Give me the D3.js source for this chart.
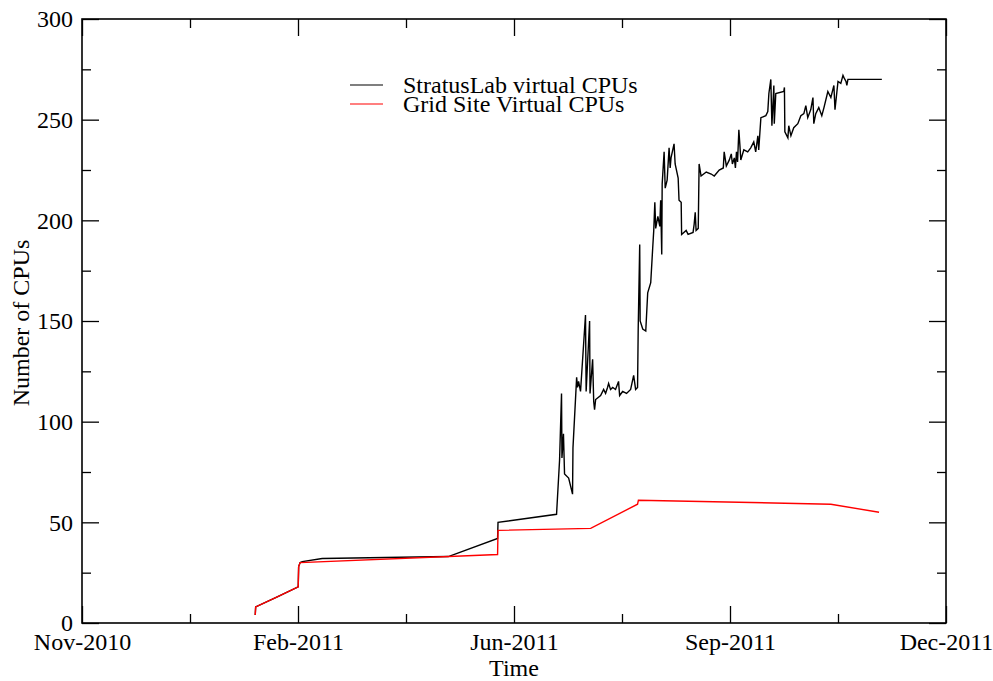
<!DOCTYPE html>
<html>
<head>
<meta charset="utf-8">
<script src="https://cdn.jsdelivr.net/npm/d3@7"></script>
<style>
  body { margin: 0; background: #fff; }
  text { font-family: "Liberation Serif", "Times New Roman", serif; }
</style>
</head>
<body>
<svg id="chart"></svg>
<script>
let svgWidth = 993, svgHeight = 681

// x values are days since 1 Jan 2011 (fractional), y values are CPU counts
let gridDays = [34.2, 34.4, 44.4, 54.1, 54.3, 55.0, 146.4, 146.6, 189.5, 211.2, 211.6, 300.7, 323.0]
let gridCpus = [4, 8, 13, 18, 28, 30, 34, 46, 47, 59, 61, 59, 55]

let stratusDays = [34.2, 34.4, 44.4, 54.1, 54.3, 55.0, 56.0, 65.2, 123.6, 146.4, 146.6, 173.7,
  175.1, 176.0, 176.2, 176.9, 177.4, 179.3, 181.1, 181.3, 183.0, 183.4, 183.9, 184.8, 187.1, 187.4,
  189.0, 189.2, 190.4, 190.9, 191.3, 191.8, 194.1, 195.5, 196.4, 197.3, 197.8, 198.7, 199.7, 201.0,
  202.4, 202.9, 204.3, 206.1, 208.0, 209.4, 210.3, 211.2, 211.5, 212.2, 212.4, 213.6, 215.0, 215.9,
  217.3, 218.2, 218.7, 219.2, 219.6, 220.6, 221.5, 221.9, 222.4, 222.6, 223.5, 224.0, 224.9, 225.8,
  226.3, 226.7, 228.1, 228.6, 230.0, 230.4, 231.4, 231.6, 233.7, 234.6, 236.9, 237.4, 237.9, 238.3,
  239.3, 239.7, 240.6, 243.0, 245.3, 246.7, 249.0, 250.9, 251.3, 252.3, 253.7, 254.6, 255.1, 256.0,
  256.5, 257.0, 257.5,
  258.1, 258.6, 259.0, 260.4, 262.2, 263.6, 265.0, 265.9, 266.9, 267.3, 268.3, 270.6, 271.5, 272.0,
  272.9, 273.4, 274.3, 274.5, 275.2, 278.9, 279.2, 279.4, 280.8, 281.2, 282.2, 283.5, 285.4, 286.8,
  288.2, 289.1, 290.0, 291.4, 292.4, 292.8, 293.7, 295.1, 296.5, 297.5, 299.3, 300.7, 302.1, 302.6,
  304.0, 305.3, 306.3, 306.7, 307.7, 308.1, 308.6, 324.3]
let stratusCpus = [4, 8, 13, 18, 28, 30, 30.5, 32, 33, 42, 50, 54,
  81, 114, 82, 94, 74, 72, 64, 87, 122, 117, 120, 115, 153, 115,
  150, 114, 131, 110, 106, 111, 113, 116, 114, 117, 119, 116, 117, 116,
  120, 113, 115, 114, 116, 123, 116, 117, 146, 188, 150, 146, 145, 164,
  169, 186, 195, 209, 196, 202, 197, 210, 183, 218, 234, 216, 220, 236,
  226, 231, 238, 228, 221, 210, 209, 193, 195, 193, 194, 198, 204, 195,
  196, 228, 222, 224, 223, 222, 225, 226, 234, 227, 230, 233, 228, 231,
  226, 234, 229,
  245, 237, 230, 235, 234, 236, 239, 234, 242, 235, 251, 252, 254, 263,
  270, 247, 267, 248, 263, 264, 266, 244, 241, 247, 242, 246, 248, 252,
  253, 257, 251, 255, 261, 248, 253, 256, 252, 256, 264, 261, 267, 255,
  269, 268, 272, 271, 269, 267, 270, 270]

let tickLabels = ['Nov-2010', 'Feb-2011', 'Jun-2011', 'Sep-2011', 'Dec-2011']
let yTicks = [0, 50, 100, 150, 200, 250, 300]
let seriesNames = ['StratusLab virtual CPUs', 'Grid Site Virtual CPUs']

const base = new Date(2011, 0, 1)
const toDate = d => new Date(base.getTime() + d * 864e5)

let margin = { left: 82, right: 47, top: 19, bottom: 58 }
let w = svgWidth - margin.left - margin.right, h = svgHeight - margin.top - margin.bottom
let fontSize = 24

let svg = d3.select('#chart').attr('width', svgWidth).attr('height', svgHeight)
let g = svg.append('g').attr('transform', `translate(${margin.left},${margin.top})`)

let start = toDate(-46), end = toDate(354)
let x = d3.scaleTime().domain([start, end]).range([0, w])
let y = d3.scaleLinear().domain([0, 300]).range([h, 0])

let majorX = d3.range(5).map(i => toDate(-46 + i * 100))
let minorX = d3.range(4).map(i => toDate(4 + i * 100))
let minorY = d3.range(6).map(i => 25 + i * 50)

// ticks point inward on all four sides
const tickSet = (axisFn, scale, vals, len) => axisFn(scale).tickValues(vals).tickSize(-len).tickFormat('')
const addAxis = (axis, tx, ty) => {
  let a = g.append('g').attr('transform', `translate(${tx},${ty})`).call(axis)
  a.select('.domain').remove()
  a.selectAll('line').attr('stroke', '#000').attr('stroke-width', 1.3)
  return a
}
addAxis(tickSet(d3.axisBottom, x, majorX, 17), 0, h)
addAxis(tickSet(d3.axisBottom, x, minorX, 9), 0, h)
addAxis(tickSet(d3.axisTop, x, majorX, 17), 0, 0)
addAxis(tickSet(d3.axisTop, x, minorX, 9), 0, 0)
addAxis(tickSet(d3.axisLeft, y, yTicks, 17), 0, 0)
addAxis(tickSet(d3.axisLeft, y, minorY, 9), 0, 0)
addAxis(tickSet(d3.axisRight, y, yTicks, 17), w, 0)
addAxis(tickSet(d3.axisRight, y, minorY, 9), w, 0)

g.append('rect').attr('width', w).attr('height', h)
  .attr('fill', 'none').attr('stroke', '#000').attr('stroke-width', 1.6)

// tick labels
let xl = g.append('g').attr('transform', `translate(0,${h})`)
  .call(d3.axisBottom(x).tickValues(majorX).tickSize(0).tickPadding(10)
    .tickFormat((d, i) => tickLabels[i]))
xl.select('.domain').remove()
xl.selectAll('text').attr('font-size', fontSize).attr('fill', '#000')
  .attr('font-family', '"Liberation Serif", serif')

let yl = g.append('g')
  .call(d3.axisLeft(y).tickValues(yTicks).tickSize(0).tickPadding(9))
yl.select('.domain').remove()
yl.selectAll('text').attr('font-size', fontSize).attr('fill', '#000')
  .attr('font-family', '"Liberation Serif", serif')

// axis titles
svg.append('text').attr('x', margin.left + w / 2).attr('y', 676)
  .attr('text-anchor', 'middle').attr('font-size', fontSize).text('Time')
svg.append('text').attr('transform', `translate(29,${margin.top + h / 2 + 2}) rotate(-90)`)
  .attr('text-anchor', 'middle').attr('font-size', fontSize).text('Number of CPUs')

let line = d3.line().x(d => x(toDate(d[0]))).y(d => y(d[1]))
let stratus = d3.zip(stratusDays, stratusCpus)
let grid = d3.zip(gridDays, gridCpus)

g.append('path').datum(stratus).attr('d', line)
  .attr('fill', 'none').attr('stroke', '#000').attr('stroke-width', 1.4)
g.append('path').datum(grid).attr('d', line)
  .attr('fill', 'none').attr('stroke', '#ff0000').attr('stroke-width', 1.4)

// legend
let legend = svg.append('g').attr('transform', 'translate(350,85)')
let colors = ['#000', '#ff0000']
seriesNames.forEach((n, i) => {
  legend.append('line').attr('x1', 0).attr('x2', 33).attr('y1', i * 19).attr('y2', i * 19)
    .attr('stroke', colors[i]).attr('stroke-width', 1.2)
  legend.append('text').attr('x', 53).attr('y', i * 19).attr('dy', '0.33em')
    .attr('font-size', fontSize).text(n)
})
</script>
</body>
</html>
